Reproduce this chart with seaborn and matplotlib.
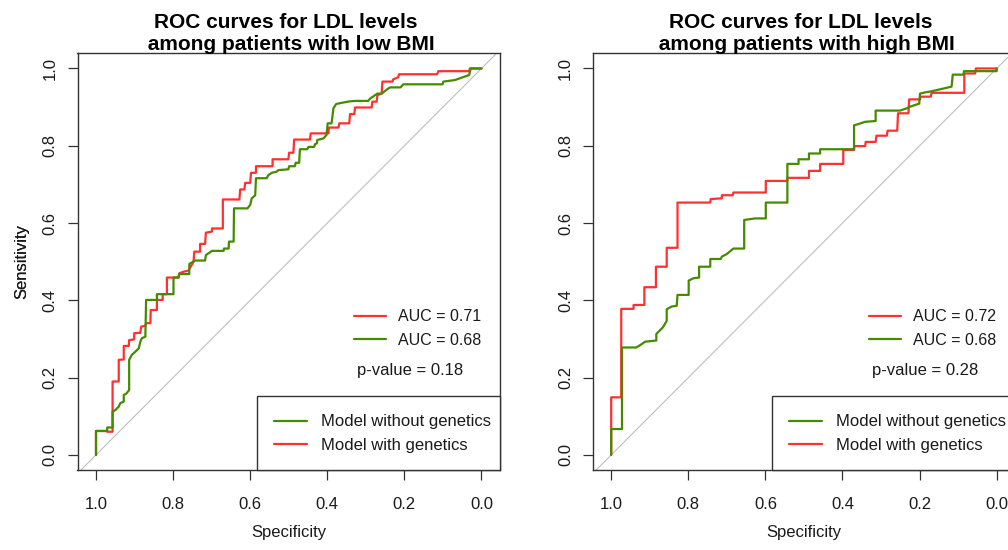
import matplotlib
matplotlib.use("Agg")
import matplotlib.pyplot as plt
from matplotlib.lines import Line2D
from matplotlib.patches import Rectangle
import seaborn as sns
import pandas as pd

# ROC curve vertices (specificity, sensitivity)
low_base_spec = [1.000, 1.000, 0.971, 0.971, 0.957, 0.957, 0.950, 0.941, 0.937, 0.928, 0.928, 0.921, 0.914,
                 0.914, 0.907, 0.898, 0.889, 0.885, 0.881, 0.872, 0.870, 0.842, 0.842, 0.799, 0.799, 0.786,
                 0.784, 0.758, 0.758, 0.743, 0.717, 0.715, 0.699, 0.669, 0.668, 0.656, 0.655, 0.643, 0.642,
                 0.607, 0.600, 0.596, 0.587, 0.585, 0.557, 0.553, 0.544, 0.531, 0.527, 0.501, 0.499, 0.484,
                 0.482, 0.473, 0.471, 0.452, 0.449, 0.434, 0.432, 0.427, 0.426, 0.410, 0.402, 0.399, 0.389,
                 0.384, 0.377, 0.363, 0.341, 0.328, 0.294, 0.289, 0.276, 0.270, 0.259, 0.242, 0.237, 0.210,
                 0.203, 0.101, 0.099, 0.069, 0.032, 0.028, 0.000]
low_base_sens = [0.000, 0.062, 0.062, 0.071, 0.071, 0.112, 0.116, 0.125, 0.134, 0.138, 0.155, 0.159, 0.168,
                 0.246, 0.259, 0.267, 0.276, 0.293, 0.302, 0.306, 0.401, 0.401, 0.416, 0.416, 0.459, 0.459,
                 0.468, 0.468, 0.494, 0.503, 0.503, 0.517, 0.528, 0.528, 0.534, 0.534, 0.552, 0.552, 0.638,
                 0.638, 0.647, 0.664, 0.672, 0.716, 0.716, 0.724, 0.730, 0.733, 0.737, 0.739, 0.747, 0.747,
                 0.756, 0.756, 0.791, 0.791, 0.797, 0.797, 0.804, 0.806, 0.815, 0.819, 0.828, 0.858, 0.858,
                 0.897, 0.908, 0.911, 0.915, 0.916, 0.916, 0.922, 0.931, 0.935, 0.935, 0.948, 0.951, 0.951,
                 0.959, 0.959, 0.966, 0.970, 0.983, 1.000, 1.000]

low_gen_spec = [1.000, 1.000, 0.971, 0.971, 0.957, 0.957, 0.941, 0.941, 0.928, 0.928, 0.915, 0.914, 0.901,
                0.901, 0.885, 0.883, 0.872, 0.870, 0.859, 0.858, 0.842, 0.842, 0.827, 0.827, 0.816, 0.816,
                0.786, 0.784, 0.773, 0.760, 0.747, 0.745, 0.730, 0.730, 0.717, 0.715, 0.699, 0.699, 0.671,
                0.671, 0.628, 0.626, 0.615, 0.613, 0.600, 0.598, 0.585, 0.585, 0.542, 0.542, 0.501, 0.499,
                0.488, 0.486, 0.445, 0.443, 0.397, 0.396, 0.371, 0.369, 0.343, 0.341, 0.330, 0.328, 0.285,
                0.283, 0.272, 0.270, 0.259, 0.257, 0.231, 0.229, 0.216, 0.214, 0.115, 0.112, 0.032, 0.030,
                0.000]
low_gen_sens = [0.000, 0.062, 0.062, 0.060, 0.060, 0.190, 0.190, 0.246, 0.247, 0.282, 0.282, 0.297, 0.299,
                0.315, 0.316, 0.332, 0.334, 0.341, 0.341, 0.375, 0.375, 0.401, 0.401, 0.416, 0.416, 0.459,
                0.459, 0.470, 0.474, 0.477, 0.500, 0.526, 0.526, 0.546, 0.546, 0.575, 0.578, 0.586, 0.586,
                0.661, 0.661, 0.687, 0.687, 0.704, 0.704, 0.730, 0.730, 0.747, 0.747, 0.765, 0.765, 0.782,
                0.782, 0.816, 0.816, 0.832, 0.832, 0.847, 0.847, 0.858, 0.858, 0.882, 0.882, 0.899, 0.899,
                0.914, 0.914, 0.931, 0.935, 0.966, 0.966, 0.972, 0.977, 0.985, 0.985, 0.993, 0.993, 1.000,
                1.000]

high_base_spec = [1.000, 1.000, 0.972, 0.972, 0.935, 0.925, 0.912, 0.883, 0.883, 0.866, 0.856, 0.856, 0.843,
                  0.830, 0.828, 0.799, 0.799, 0.787, 0.772, 0.772, 0.743, 0.743, 0.716, 0.713, 0.700, 0.683,
                  0.655, 0.655, 0.640, 0.627, 0.599, 0.599, 0.543, 0.543, 0.514, 0.514, 0.487, 0.487, 0.458,
                  0.458, 0.370, 0.370, 0.359, 0.341, 0.314, 0.314, 0.251, 0.233, 0.225, 0.201, 0.199, 0.186,
                  0.169, 0.147, 0.117, 0.114, 0.086, 0.085, 0.000, 0.000]
high_base_sens = [0.000, 0.067, 0.067, 0.278, 0.278, 0.284, 0.293, 0.296, 0.313, 0.330, 0.347, 0.377, 0.384,
                  0.386, 0.414, 0.414, 0.451, 0.457, 0.459, 0.487, 0.487, 0.507, 0.507, 0.513, 0.520, 0.534,
                  0.534, 0.608, 0.610, 0.612, 0.612, 0.653, 0.653, 0.753, 0.753, 0.765, 0.765, 0.780, 0.780,
                  0.791, 0.791, 0.853, 0.856, 0.862, 0.864, 0.891, 0.891, 0.897, 0.901, 0.909, 0.935, 0.938,
                  0.941, 0.946, 0.953, 0.984, 0.984, 0.993, 0.993, 1.000]

high_gen_spec = [1.000, 1.000, 0.974, 0.974, 0.942, 0.942, 0.914, 0.914, 0.884, 0.884, 0.856, 0.856, 0.828,
                 0.828, 0.743, 0.742, 0.713, 0.713, 0.685, 0.683, 0.599, 0.599, 0.543, 0.543, 0.487, 0.487,
                 0.458, 0.458, 0.398, 0.398, 0.370, 0.370, 0.341, 0.340, 0.314, 0.312, 0.285, 0.283, 0.258,
                 0.256, 0.229, 0.227, 0.199, 0.197, 0.171, 0.169, 0.084, 0.084, 0.056, 0.054, 0.000]
high_gen_sens = [0.000, 0.149, 0.149, 0.378, 0.378, 0.388, 0.388, 0.434, 0.434, 0.487, 0.487, 0.536, 0.536,
                 0.653, 0.653, 0.662, 0.664, 0.672, 0.672, 0.679, 0.679, 0.709, 0.709, 0.717, 0.717, 0.735,
                 0.735, 0.753, 0.753, 0.789, 0.789, 0.799, 0.799, 0.810, 0.810, 0.826, 0.826, 0.839, 0.839,
                 0.884, 0.884, 0.920, 0.920, 0.927, 0.927, 0.937, 0.937, 0.987, 0.987, 1.000, 1.000]

panels = [
    {"title": ["ROC curves for LDL levels ", " among patients with low BMI"],
     "curves": {"Model with genetics": (low_gen_spec, low_gen_sens),
                "Model without genetics": (low_base_spec, low_base_sens)},
     "auc": ["AUC = 0.71", "AUC = 0.68"], "pvalue": "p-value = 0.18"},
    {"title": ["ROC curves for LDL levels ", " among patients with high BMI"],
     "curves": {"Model with genetics": (high_gen_spec, high_gen_sens),
                "Model without genetics": (high_base_spec, high_base_sens)},
     "auc": ["AUC = 0.72", "AUC = 0.68"], "pvalue": "p-value = 0.28"},
]

RED = "#FF3030"
GREEN = "#458B00"
palette = {"Model with genetics": RED, "Model without genetics": GREEN}
TEXT = "#1a1a1a"

sns.set_style("white")
plt.rcParams["font.family"] = ["Liberation Sans", "DejaVu Sans"]

W, H = 1008, 550
fig = plt.figure(figsize=(W / 100, H / 100), dpi=100)

# axes boxes in pixels (left, top, right, bottom)
boxes = [(77.5, 53, 500, 470), (592.7, 53, 1015.2, 470)]
ticks = [1.0, 0.8, 0.6, 0.4, 0.2, 0.0]

for panel, (l, t, r, b) in zip(panels, boxes):
    ax = fig.add_axes([l / W, 1 - b / H, (r - l) / W, (b - t) / H])

    rows = []
    for name, (sx, sy) in panel["curves"].items():
        rows += [{"model": name, "spec": x, "sens": y} for x, y in zip(sx, sy)]
    df = pd.DataFrame(rows)

    ax.axline((1, 0), (0, 1), color="#BEBEBE", lw=0.8, zorder=1)
    sns.lineplot(data=df, x="spec", y="sens", hue="model", palette=palette,
                 sort=False, estimator=None, lw=1.6, ax=ax, legend=False, zorder=3)

    ax.set_xlim(1.048, -0.048)
    ax.set_ylim(-0.039, 1.04)
    ax.set_xticks(ticks)
    ax.set_xticklabels([f"{v:.1f}" for v in ticks])
    ax.set_yticks(ticks)
    ax.set_yticklabels([f"{v:.1f}" for v in ticks], rotation=90, va="center")
    ax.tick_params(axis="both", direction="out", length=7.2, width=0.9, color="#333333",
                   labelsize=12, labelcolor=TEXT, bottom=True, left=True)
    ax.tick_params(axis="x", pad=12)
    ax.tick_params(axis="y", pad=7)
    for sp in ax.spines.values():
        sp.set_visible(True)
        sp.set_color("#333333")
        sp.set_linewidth(1.0)

    ax.set_xlabel("Specificity", fontsize=12, color=TEXT)
    ax.set_ylabel("Sensitivity", fontsize=12, color=TEXT)
    ax.xaxis.set_label_coords(0.5, (b - 532.7) / (b - t))
    ax.xaxis.label.set_va("center")
    ax.yaxis.set_label_coords((21.7 - l) / (r - l), 0.5)
    ax.yaxis.label.set_va("center")

    # two-line bold title
    ax.text(0.5, (b - 28.3) / (b - t), panel["title"][0], transform=ax.transAxes,
            ha="center", va="baseline", fontsize=15, fontweight="bold", color="black")
    ax.text(0.5, (b - 50) / (b - t), panel["title"][1], transform=ax.transAxes,
            ha="center", va="baseline", fontsize=15, fontweight="bold", color="black")

    # AUC legend (no frame)
    auc_handles = [Line2D([], [], color=RED, lw=1.6), Line2D([], [], color=GREEN, lw=1.6)]
    leg_auc = ax.legend(auc_handles, panel["auc"], loc="center left",
                        bbox_to_anchor=(0.655, 0.339), frameon=False, borderpad=0,
                        borderaxespad=0, handlelength=2.0, handletextpad=0.75,
                        labelspacing=0.55, fontsize=11.5, labelcolor=TEXT)
    ax.add_artist(leg_auc)

    ax.text(0.661, 0.238, panel["pvalue"], transform=ax.transAxes,
            ha="left", va="center", fontsize=12, color=TEXT)

    # model legend box in the lower right corner (R-style legend frame)
    box_w = 243 / (r - l)
    box_h = 74.3 / (b - t)
    ax.add_patch(Rectangle((1 - box_w, 0), box_w, box_h, transform=ax.transAxes,
                           facecolor="white", edgecolor="#333333", lw=1.0, zorder=4,
                           clip_on=False))
    model_handles = [Line2D([], [], color=GREEN, lw=1.6), Line2D([], [], color=RED, lw=1.6)]
    leg = ax.legend(model_handles, ["Model without genetics", "Model with genetics"],
                    loc="center left", bbox_to_anchor=(1 - box_w + 16.5 / (r - l), 36.5 / (b - t)),
                    frameon=False, borderpad=0, borderaxespad=0,
                    handlelength=2.0, handletextpad=0.86, labelspacing=0.5,
                    fontsize=12, labelcolor=TEXT)
    leg.set_zorder(5)

fig.savefig("out.png", dpi=100)
